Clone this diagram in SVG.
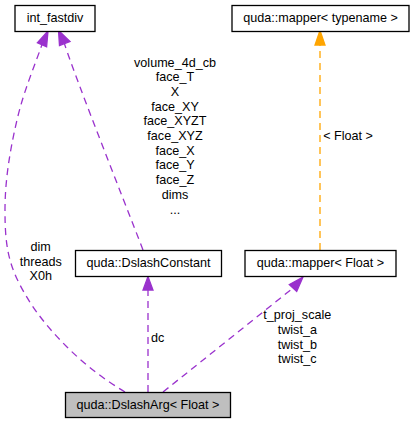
<svg xmlns="http://www.w3.org/2000/svg" width="414" height="424" viewBox="0 0 414 424">
<style>
text{font-family:"Liberation Sans",Arial,sans-serif;font-size:12.6px;fill:#000;text-anchor:middle}
.box{fill:#fff;stroke:#000;stroke-width:1.3}
.cur{fill:#bfbfbf}
.e{fill:none;stroke:#9a32cd;stroke-width:1.3;stroke-dasharray:7,5}
.o{fill:none;stroke:#ffa500;stroke-width:1.3;stroke-dasharray:7,5}
.ah{fill:#9a32cd;stroke:#9a32cd;stroke-width:1.3}
.ao{fill:#ffa500;stroke:#ffa500;stroke-width:1.3}
</style>
<rect width="414" height="424" fill="#fff"/>
<g id="connectors">
<path class="e" d="M125,392 C105,380 85,365 67,347 S33,310 20,285 S5,240 5,210 S10,150 17,120 S35,65 42,44.5"/>
<polygon class="ah" points="48,31 37.4,42.7 46.6,46.7"/>
<path class="e" d="M143,250 C120,190 80,90 64.5,44"/>
<polygon class="ah" points="58.5,30.5 59.5,45.5 70,41.5"/>
<path class="e" d="M148,392 L148,290"/>
<polygon class="ah" points="148,276.5 143,290 153,290"/>
<path class="e" d="M163,392 L293,288"/>
<polygon class="ah" points="303,277 289.3,284.6 296.7,291.4"/>
<path class="o" d="M320,250 L320,45"/>
<polygon class="ao" points="320,30.5 315,45 325,45"/>
<g id="labels">
<text x="175" y="66.5">volume_4d_cb</text>
<text x="175" y="81.2">face_T</text>
<text x="175" y="95.9">X</text>
<text x="175" y="110.6">face_XY</text>
<text x="175" y="125.3">face_XYZT</text>
<text x="175" y="140">face_XYZ</text>
<text x="175" y="154.7">face_X</text>
<text x="175" y="169.4">face_Y</text>
<text x="175" y="184.1">face_Z</text>
<text x="175" y="198.8">dims</text>
<text x="175" y="213.5">...</text>
<text x="348" y="140">&lt; Float &gt;</text>
<text x="40.7" y="251">dim</text>
<text x="40.7" y="265.7">threads</text>
<text x="40.7" y="280.4">X0h</text>
<text x="157.6" y="342">dc</text>
<text x="297.3" y="319.3">t_proj_scale</text>
<text x="297.3" y="334">twist_a</text>
<text x="297.3" y="348.7">twist_b</text>
<text x="297.3" y="363.4">twist_c</text>
</g>
</g>
<g id="int_fastdiv">
<rect class="box" x="15" y="5.5" width="80" height="26"/>
<text x="55" y="22">int_fastdiv</text>
</g>
<g id="mapper_typename">
<rect class="box" x="232" y="5.5" width="177" height="26"/>
<text x="320.5" y="22">quda::mapper&lt; typename &gt;</text>
</g>
<g id="DslashConstant">
<rect class="box" x="75.5" y="250.5" width="146" height="26"/>
<text x="148.5" y="267">quda::DslashConstant</text>
</g>
<g id="mapper_Float">
<rect class="box" x="245" y="250.5" width="151" height="26"/>
<text x="320.5" y="267">quda::mapper&lt; Float &gt;</text>
</g>
<g id="DslashArg">
<rect class="box cur" x="65.5" y="392.5" width="165" height="25"/>
<text x="148" y="409">quda::DslashArg&lt; Float &gt;</text>
</g>
</svg>
